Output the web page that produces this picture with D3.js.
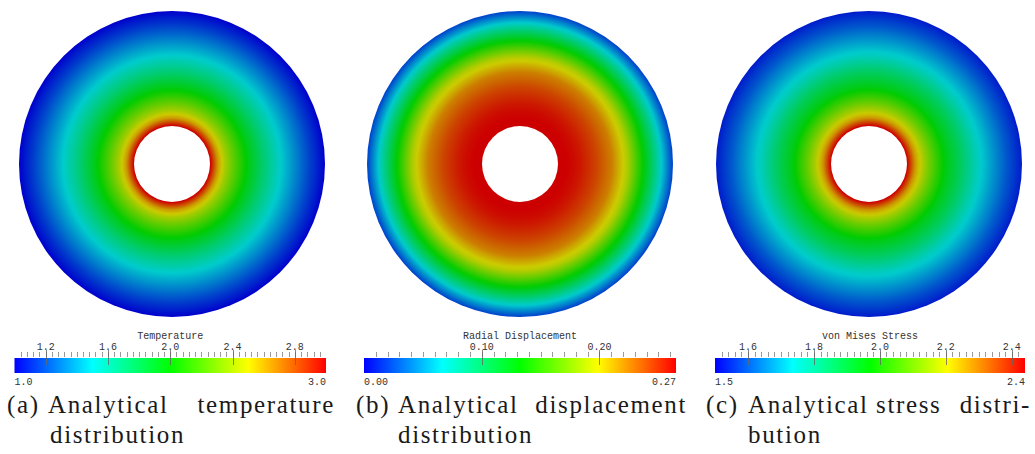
<!DOCTYPE html>
<html>
<head>
<meta charset="utf-8">
<script src="https://cdn.jsdelivr.net/npm/d3@7"></script>
<style>
  body { margin: 0; background: #fff; }
  svg { display: block; }
</style>
</head>
<body>
<svg width="1035" height="454"></svg>
<script>
// radial samples, as a fraction of the outer radius (inner hole at ~0.25)
const radiusFrac = [0.25, 0.30, 0.35, 0.40, 0.50, 0.60, 0.70, 0.80, 0.90, 1.00];
const temperature = [3.0, 2.62, 2.40, 2.24, 1.95, 1.72, 1.52, 1.34, 1.16, 1.0];
const displacement = [0.265, 0.265, 0.262, 0.257, 0.243, 0.224, 0.19, 0.135, 0.08, 0.02];
const stress = [2.44, 2.27, 2.17, 2.09, 1.95, 1.86, 1.76, 1.68, 1.60, 1.53];

const fieldTitles = ["Temperature", "Radial Displacement", "von Mises Stress"];
const fieldMin = [1.0, 0.0, 1.5];
const fieldMax = [3.0, 0.265, 2.44];
const minLabels = ["1.0", "0.00", "1.5"];
const maxLabels = ["3.0", "0.27", "2.4"];
const majorTicks = [[1.2, 1.6, 2.0, 2.4, 2.8], [0.10, 0.20], [1.6, 1.8, 2.0, 2.2, 2.4]];
const minorStep = [0.04, 0.01, 0.02];
const tickFormat = [".1f", ".2f", ".1f"];

const captionLine1 = [
  ["(a)", "Analytical", "temperature"],
  ["(b)", "Analytical", "displacement"],
  ["(c)", "Analytical", "stress", "distri-"]
];
const captionLine2 = ["distribution", "distribution", "bution"];

const rainbowAt = [0, 0.25, 0.5, 0.75, 1];
const rainbow = ["#0000ff", "#00ffff", "#00ff00", "#ffff00", "#ff0000"];

const fields = [temperature, displacement, stress];

// layout
const centers = [172, 520, 869];
const cy = 164, R = 153, rHole = 38;
const barX = [[14.5, 326], [364, 676], [715, 1025]];
const barY = 358, barH = 15;
const monoFont = '"Liberation Mono", "Courier New", monospace';
const capFont = '"Liberation Serif", "Times New Roman", serif';
// caption word start x; last word of line 1 is right-aligned to capRight
const cap1X = [[7, 48], [356, 398], [706, 748, 876]];
const capRight = [335, 687, 1031];
const cap2X = [50, 398, 748];

const svg = d3.select("svg");
const defs = svg.append("defs");

const unit = d3.scaleLinear().domain(rainbowAt).range(rainbow).interpolate(d3.interpolateRgb);

fields.forEach((vals, i) => {
  const norm = d3.scaleLinear().domain([fieldMin[i], fieldMax[i]]).range([0, 1]).clamp(true);
  const profile = d3.scaleLinear().domain(radiusFrac).range(vals);
  const shade = c => { const k = d3.rgb(c); return d3.rgb(k.r * 0.8, k.g * 0.8, k.b * 0.8); };

  // disk gradient
  const g = defs.append("radialGradient")
    .attr("id", "disk" + i)
    .attr("gradientUnits", "userSpaceOnUse")
    .attr("cx", centers[i]).attr("cy", cy).attr("r", R);
  d3.range(0, 61).forEach(k => {
    const f = radiusFrac[0] + (1 - radiusFrac[0]) * k / 60;
    g.append("stop")
      .attr("offset", f)
      .attr("stop-color", shade(unit(norm(profile(f)))));
  });

  svg.append("circle")
    .attr("cx", centers[i]).attr("cy", cy).attr("r", R)
    .attr("fill", `url(#disk${i})`);
  svg.append("circle")
    .attr("cx", centers[i]).attr("cy", cy).attr("r", rHole)
    .attr("fill", "#fff");

  // colour bar
  const lg = defs.append("linearGradient").attr("id", "bar" + i);
  rainbowAt.forEach((o, j) => lg.append("stop").attr("offset", o).attr("stop-color", rainbow[j]));

  const x = d3.scaleLinear().domain([fieldMin[i], fieldMax[i]]).range(barX[i]);
  const bar = svg.append("g");

  bar.append("rect")
    .attr("x", barX[i][0]).attr("y", barY)
    .attr("width", barX[i][1] - barX[i][0]).attr("height", barH)
    .attr("fill", `url(#bar${i})`);

  const minor = d3.range(1, Math.floor((fieldMax[i] - fieldMin[i]) / minorStep[i] + 1e-6) + 1)
    .map(k => fieldMin[i] + k * minorStep[i])
    .filter(v => v < fieldMax[i] - 1e-6);
  bar.selectAll(".minor").data(minor).join("line")
    .attr("x1", d => Math.round(x(d)) + 0.5).attr("x2", d => Math.round(x(d)) + 0.5)
    .attr("y1", barY - 6).attr("y2", barY - 1)
    .attr("stroke", "#999").attr("stroke-width", 1);

  bar.selectAll(".major").data(majorTicks[i]).join("line")
    .attr("x1", d => Math.round(x(d)) + 0.5).attr("x2", d => Math.round(x(d)) + 0.5)
    .attr("y1", barY - 8).attr("y2", barY + 7)
    .attr("stroke", "#666").attr("stroke-opacity", 0.8).attr("stroke-width", 1);

  const monoText = sel => sel.style("font-family", monoFont).style("font-size", "10px").attr("fill", "#333");

  bar.selectAll(".lab").data(majorTicks[i]).join("text")
    .attr("x", d => x(d)).attr("y", barY - 8.5)
    .attr("text-anchor", "middle")
    .call(monoText)
    .text(d => d3.format(tickFormat[i])(d));

  bar.append("text")
    .attr("x", (barX[i][0] + barX[i][1]) / 2).attr("y", barY - 19.5)
    .attr("text-anchor", "middle")
    .call(monoText)
    .text(fieldTitles[i]);

  bar.append("text").attr("x", barX[i][0]).attr("y", barY + 27)
    .call(monoText).text(minLabels[i]);
  bar.append("text").attr("x", barX[i][1]).attr("y", barY + 27)
    .attr("text-anchor", "end").call(monoText).text(maxLabels[i]);

  // caption
  const capText = sel => sel.style("font-family", capFont).style("font-size", "25px")
    .style("letter-spacing", "1.65px").attr("fill", "#1a1a1a");
  const words = captionLine1[i];
  words.forEach((w, j) => {
    const last = j === words.length - 1;
    svg.append("text")
      .attr("x", last ? capRight[i] : cap1X[i][j]).attr("y", 413)
      .attr("text-anchor", last ? "end" : "start")
      .call(capText)
      .text(w);
  });
  svg.append("text")
    .attr("x", cap2X[i]).attr("y", 443)
    .call(capText)
    .text(captionLine2[i]);
});
</script>
</body>
</html>
